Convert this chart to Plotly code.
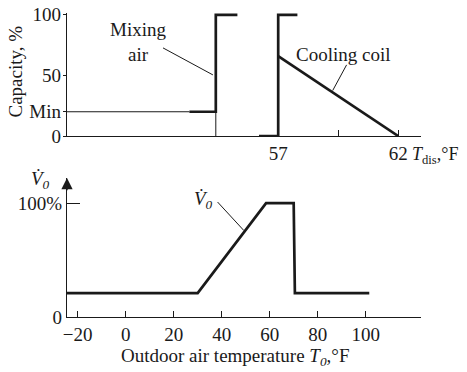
import plotly.graph_objects as go

# ---------------- data ----------------
# top panel: capacity (%) vs discharge temperature (F)
mix_thin_x = [48.2, 53.3]
mix_thin_y = [20, 20]
mix_drop_x = [54.4, 54.4]
mix_drop_y = [0, 20]
mix_x = [53.3, 54.4, 54.4, 55.3]
mix_y = [20, 20, 100, 100]
coil_step_x = [56.2, 57, 57, 57.8]
coil_step_y = [0, 0, 100, 100]
coil_slope_x = [57, 62]
coil_slope_y = [66, 0]
top_tickvals = [57, 62]
top_ticktext = ["57", "62"]
top_minor_ticks = [59.5]
top_ytickvals = [0, 20, 50, 100]
top_yticktext = ["0", "Min", "50", "100"]

# bottom panel: outdoor air flow vs outdoor temperature
oa_x = [-24.45, 30, 58.5, 70, 70.5, 101.5]
oa_y = [21, 21, 100, 100, 21, 21]
bot_tickvals = [-20, 0, 20, 40, 60, 80, 100]
bot_ticktext = ["\u221220", "0", "20", "40", "60", "80", "100"]
bot_ytickvals = [0, 100]
bot_yticktext = ["0", "100%"]

# leader lines (x0, y0, x1, y1)
mix_leader = [52.2, 72.7, 54.28, 50.4]
coil_leader = [59.85, 58.7, 59.27, 37.5]
v_leader = [38.3, 100.9, 49.2, 76.0]

FONT = "Liberation Serif"
INK = "#1a1a1a"
THICK = 2.7
THIN = 1.0
AX = 1.4

fig = go.Figure()

def add(x, y, w, xa="x", ya="y"):
    fig.add_trace(go.Scatter(x=x, y=y, mode="lines", xaxis=xa, yaxis=ya,
                             line=dict(color=INK, width=w), hoverinfo="skip",
                             showlegend=False))

add(mix_thin_x, mix_thin_y, THIN)
add(mix_drop_x, mix_drop_y, THIN)
add(mix_x, mix_y, THICK)
add(coil_step_x, coil_step_y, THICK)
add(coil_slope_x, coil_slope_y, THICK)
add(oa_x, oa_y, THICK, "x2", "y2")

tickfont = dict(family=FONT, size=19, color=INK)
common = dict(showline=True, linecolor=INK, linewidth=AX, tickwidth=AX, tickcolor=INK,
              showgrid=False, zeroline=False, tickfont=tickfont, automargin=False,
              ticklabeloverflow="allow")

# page body has an 8px margin, so the figure is drawn 8px right/down
fig.update_layout(
    width=459, height=364,
    margin=dict(l=59, r=46, t=5, b=55, autoexpand=False),
    paper_bgcolor="white", plot_bgcolor="white",
    font=dict(family=FONT, size=19, color=INK),
    xaxis=dict(domain=[0, 1], range=[48.2, 62.95], anchor="y",
               tickvals=top_tickvals, ticktext=top_ticktext,
               ticks="inside", ticklen=6,
               minor=dict(tickmode="array", tickvals=top_minor_ticks, ticks="inside",
                          ticklen=6, tickwidth=AX, tickcolor=INK, showgrid=False),
               **common),
    yaxis=dict(domain=[0.5954, 1], range=[0, 101.5], anchor="x",
               tickvals=top_ytickvals, ticktext=top_yticktext,
               ticks="outside", ticklen=3, ticklabelstandoff=-2, **common),
    xaxis2=dict(domain=[0, 1], range=[-24.45, 123.05], anchor="y2",
                tickvals=bot_tickvals, ticktext=bot_ticktext,
                ticks="inside", ticklen=6, **common),
    yaxis2=dict(domain=[0, 0.4572], range=[0, 122], anchor="x2",
                tickvals=bot_ytickvals, ticktext=bot_yticktext,
                ticks="inside", ticklen=13, **common),
)

for (x0, y0, x1, y1), xr, yr in [(mix_leader, "x", "y"), (coil_leader, "x", "y"),
                                 (v_leader, "x2", "y2")]:
    fig.add_shape(type="line", x0=x0, y0=y0, x1=x1, y1=y1, xref=xr, yref=yr,
                  line=dict(color=INK, width=THIN))

# paper coords: plot area spans page px x 67..421, y 13..317
def px(xp):
    return (xp - 67) / 354.0

def py(yp):
    return (317 - yp) / 304.0

ann = [
    dict(text="Mixing<br>air", x=51.16, y=77.6, xref="x", yref="y"),
    dict(text="Cooling coil", x=59.72, y=67, xref="x", yref="y"),
    dict(text="<i>T</i><sub>dis</sub>,°F", x=62.5, y=py(155), xref="x", yref="paper",
         xanchor="left", size=18),
    dict(text="<i>V\u0307</i><sub><i>0</i></sub>", x=32.5, y=103, xref="x2", yref="y2"),
    dict(text="<i>V\u0307</i><sub><i>0</i></sub>", x=px(40), y=py(180), xref="paper",
         yref="paper"),
    dict(text="Outdoor air temperature <i>T</i><sub><i>0</i></sub>,°F", x=px(235),
         y=py(357), xref="paper", yref="paper"),
    dict(text="Capacity, %", x=px(15.5), y=py(72), xref="paper", yref="paper",
         textangle=-90),
]
for a in ann:
    a.setdefault("xanchor", "center")
    size = a.pop("size", 19)
    fig.add_annotation(showarrow=False, yanchor="middle",
                       font=dict(family=FONT, size=size, color=INK), **a)

# arrow on top of the lower y axis
fig.add_annotation(x=-24.45, y=122, ax=-24.45, ay=110, xref="x2", yref="y2",
                   axref="x2", ayref="y2", text="", showarrow=True,
                   arrowhead=2, arrowsize=1.6, arrowwidth=AX, arrowcolor=INK)

fig.write_html("out.html")
